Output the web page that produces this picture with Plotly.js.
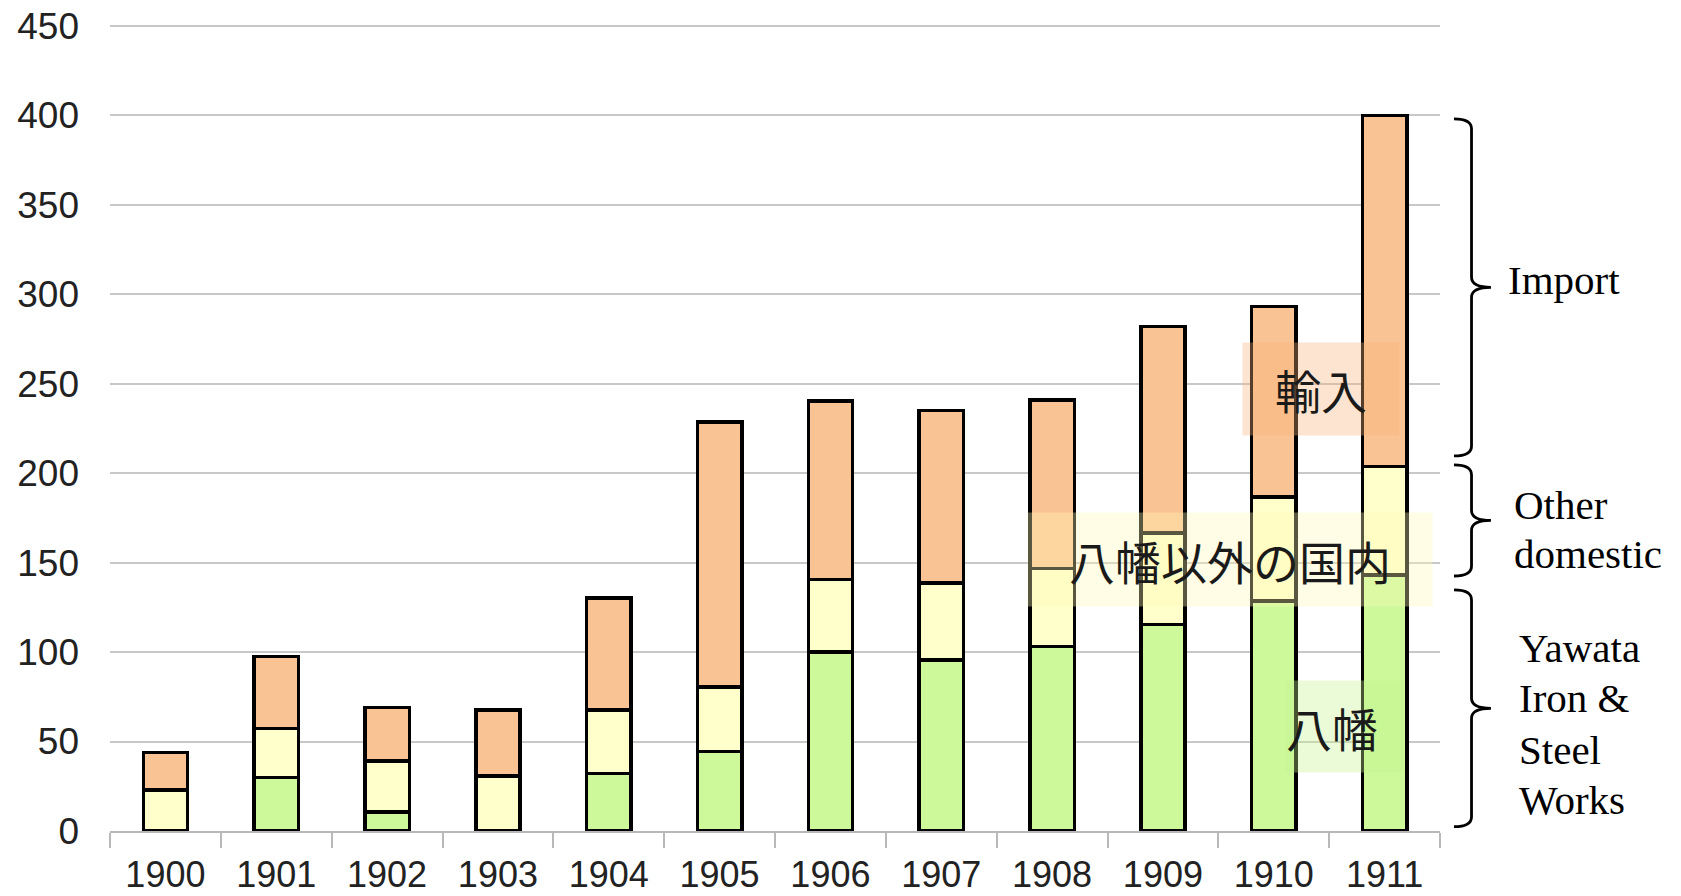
<!DOCTYPE html>
<html>
<head>
<meta charset="utf-8">
<script src="https://cdn.plot.ly/plotly-3.0.1.min.js"></script>
<style>html,body{margin:0;padding:0;background:#fff;}#chart{width:1681px;height:896px;}</style>
</head>
<body>
<div id="chart"></div>
<script>
// ---- data ----
const years = ['1900','1901','1902','1903','1904','1905','1906','1907','1908','1909','1910','1911'];
const yawata = [0, 30, 10.5, 0, 32, 44.4, 100, 95.7, 103, 115.3, 128.5, 143];
const otherDomestic = [23, 27.4, 28.6, 30.7, 35.6, 36, 40.5, 43, 43.6, 51.3, 58.3, 60.6];
const imports = [21, 40, 29.8, 37, 62.7, 148.2, 99.8, 96.4, 94.3, 115.3, 106.2, 196.4];
const seriesNames = ['八幡', '八幡以外の国内', '輸入'];
const seriesColors = ['#CDF99B', '#FFFFCC', '#FAC393'];
const yTicks = [0, 50, 100, 150, 200, 250, 300, 350, 400, 450];

// right-hand brace labels (English)
const braceLabels = [['Import'], ['Other', 'domestic'], ['Yawata', 'Iron &', 'Steel', 'Works']];
const braceTop = [398, 204.6, 134.7];
const braceBottom = [209.6, 142.5, 2.4];
const braceLabelY = [[308], [182.3, 154.6], [102.2, 74.2, 45.4, 17.4]];
const braceLabelX = [1.0504, 1.0549, 1.0586];

// ---- traces ----
const seriesValues = [yawata, otherDomestic, imports];
const traces = seriesValues.map((vals, k) => ({
  type: 'bar',
  name: seriesNames[k],
  x: years,
  y: vals,
  marker: {color: seriesColors[k], line: {color: '#000', width: 3.5}},
  hoverinfo: 'x+y+name'
}));

// ---- braces ----
const xHook = 1.0105, xVert = 1.0237, xTip = 1.0383, r = 5.6;
function bracePath(top, bot) {
  const mid = (top + bot) / 2;
  return `M ${xHook},${top} Q ${xVert},${top} ${xVert},${top - r} ` +
         `L ${xVert},${mid + r} Q ${xVert},${mid} ${xTip},${mid} ` +
         `Q ${xVert},${mid} ${xVert},${mid - r} ` +
         `L ${xVert},${bot + r} Q ${xVert},${bot} ${xHook},${bot}`;
}
const shapes = braceTop.map((t, i) => ({
  type: 'path', xref: 'paper', yref: 'y',
  path: bracePath(t, braceBottom[i]),
  line: {color: '#000', width: 2.8}
}));

// ---- annotations ----
const annotations = [];
braceLabels.forEach((lines, i) => {
  lines.forEach((txt, j) => {
    annotations.push({
      xref: 'paper', yref: 'y', x: braceLabelX[i], y: braceLabelY[i][j],
      xanchor: 'left', yanchor: 'middle', showarrow: false, borderpad: 0,
      text: txt, font: {family: 'Liberation Serif, Times New Roman, serif', size: 41, color: '#000'}
    });
  });
});
// Japanese in-chart labels with translucent boxes
const jpFont = {family: 'Noto Sans CJK JP, sans-serif', size: 46, color: '#1a1a1a'};
annotations.push({
  xref: 'x', yref: 'y', x: 10.43, y: 247, text: seriesNames[2], showarrow: false,
  width: 156, height: 92, borderpad: 0, align: 'center', valign: 'middle',
  bgcolor: 'rgba(246,178,121,0.35)', font: jpFont
});
annotations.push({
  xref: 'x', yref: 'y', x: 9.606, y: 151.8, text: seriesNames[1], showarrow: false,
  width: 404, height: 93, borderpad: 0, align: 'center', valign: 'middle',
  bgcolor: 'rgba(255,249,181,0.35)', font: jpFont
});
annotations.push({
  xref: 'x', yref: 'y', x: 10.643, y: 58.4, text: seriesNames[0], showarrow: false,
  width: 118, height: 91, borderpad: 0, align: 'left', valign: 'middle',
  bgcolor: 'rgba(198,244,141,0.35)', font: jpFont
});

const tickFont = {family: 'Liberation Sans, Arial, sans-serif', size: 37, color: '#222'};
const xTickFont = {family: 'Liberation Sans, Arial, sans-serif', size: 36, color: '#222'};
const layout = {
  width: 1681, height: 896,
  margin: {l: 110, r: 241, t: 24, b: 65},
  paper_bgcolor: '#fff', plot_bgcolor: '#fff',
  barmode: 'stack', bargap: 0.6, showlegend: false,
  xaxis: {
    type: 'category', tickson: 'boundaries', ticks: 'outside', ticklen: 15, tickwidth: 2,
    tickcolor: '#b8b8b8', showgrid: false, showline: true, linecolor: '#b8b8b8', linewidth: 2,
    tickfont: xTickFont, ticklabelstandoff: 11, automargin: false
  },
  yaxis: {
    range: [0, 451], tickvals: yTicks, ticks: '', showgrid: true, gridcolor: '#c8c8c8', gridwidth: 2,
    zeroline: false, showline: false, tickfont: tickFont, ticklabelstandoff: 30, automargin: false
  },
  shapes: shapes,
  annotations: annotations
};
Plotly.newPlot('chart', traces, layout, {displayModeBar: false, staticPlot: true});
</script>
</body>
</html>
